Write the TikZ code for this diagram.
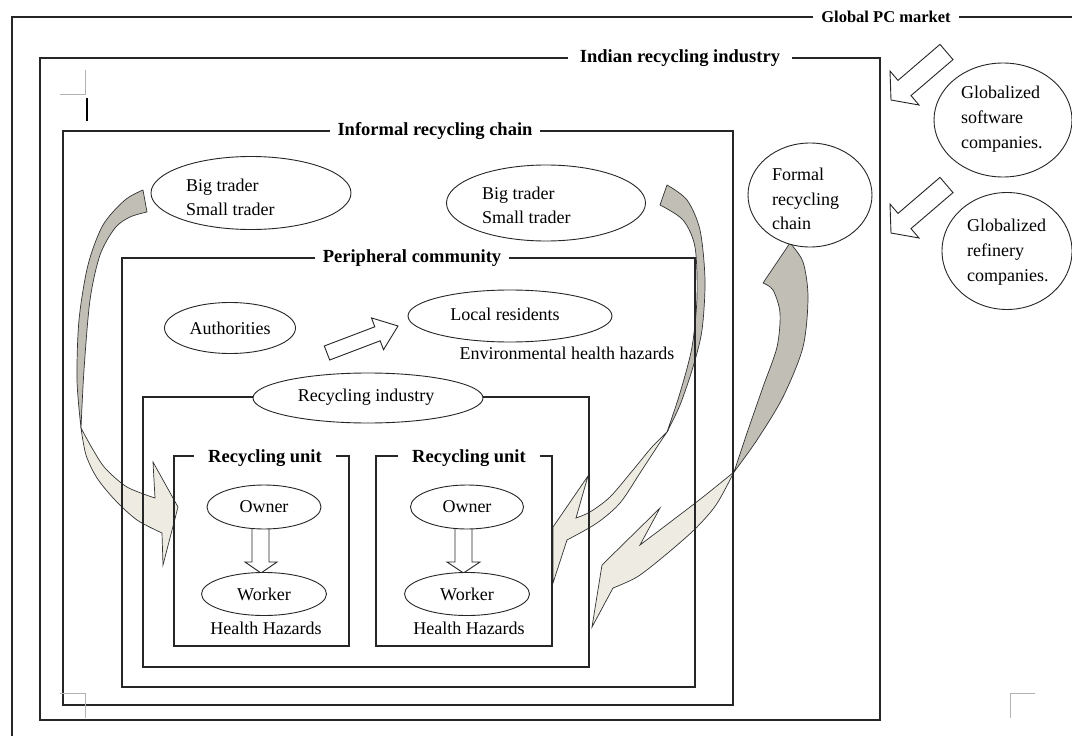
\documentclass[tikz,border=0pt]{standalone}
\usepackage{fontspec}
\setmainfont{Liberation Serif}
\usetikzlibrary{shapes.geometric}
\definecolor{backc}{RGB}{192,190,181}
\definecolor{frontc}{RGB}{238,236,226}
\begin{document}
\begin{tikzpicture}[x=1pt,y=-1pt,
  box/.style={draw=black!85,line width=1.1pt},
  ttl/.style={fill=white,inner xsep=8pt,inner ysep=1pt,font=\fontsize{18.5}{20}\selectfont\bfseries},
  ell/.style={ellipse,draw=black!85,line width=0.9pt,fill=white,inner sep=0pt,font=\fontsize{18}{24}\selectfont},
  txt/.style={font=\fontsize{18}{24}\selectfont,inner sep=0pt,align=left},
  back/.style={fill=backc,draw=black!80,line width=0.7pt,line join=round},
  front/.style={fill=frontc,draw=black!80,line width=0.7pt,line join=miter},
  hollow/.style={fill=white,draw=black!85,line width=0.9pt,line join=miter},
  crop/.style={draw=black!30,line width=0.8pt}]
\clip (0,0) rectangle (1072,736);
\fill[white] (0,0) rectangle (1072,736);

% ---- curved arrows (drawn first, box lines over them)
% left: big trader 1 -> recycling unit 1
\filldraw[back] plot[smooth] coordinates{(143,190) (125,200) (103,225) (88,265) (79,320) (77,380) (81,428)}
  -- plot[smooth] coordinates{(81,428) (84,370) (90,300) (100,255) (115,228) (130,217) (147,212)} -- cycle;
\filldraw[front] plot[smooth] coordinates{(81,428) (86,455) (97,478) (115,500) (137,520) (162,533)}
  -- (163,565) -- (178,507) -- (153,462)
  -- plot[smooth] coordinates{(155,498) (127,487) (105,468) (92,448) (81,428)} -- cycle;
% right: big trader 2 -> recycling unit 2
\filldraw[back] plot[smooth] coordinates{(667,185) (687,200) (700,230) (705,280) (702,330) (693,367) (680,405) (667,432)}
  -- plot[smooth] coordinates{(667,432) (680,393) (692,347) (697,297) (695,247) (683,220) (660,205)} -- cycle;
\filldraw[front] plot[smooth] coordinates{(667,432) (655,450) (640,473) (620,503) (597,523) (567,540)}
  -- (553,583) -- (553,527) -- (588,476)
  -- plot[smooth] coordinates{(576,518) (590,512) (610,497) (633,470) (652,447) (667,432)} -- cycle;
% formal chain -> recycling unit 2
\filldraw[back] plot[smooth] coordinates{(790,243) (803,262) (808,297) (803,347) (783,397) (757,440) (734,472)}
  -- plot[smooth] coordinates{(734,472) (747,433) (763,387) (777,347) (780,313) (773,290) (763,283)} -- cycle;
\filldraw[front] plot[smooth] coordinates{(734,472) (703,497) (673,520) (640,545)}
  -- (660,508) -- (602,565) -- (592,627)
  -- plot[smooth] coordinates{(613,588) (637,577) (663,557) (694,530) (716,505) (734,472)} -- cycle;

% ---- boxes
\draw[box] (12,760) -- (12,17) -- (1100,17);
\draw[box] (40,58) rectangle (880,720);
\draw[box] (63,131) rectangle (733,705);
\draw[box] (122,258) rectangle (695,687);
\draw[box] (143,397) rectangle (589,667);
\draw[box] (174,456) rectangle (349,646);
\draw[box] (376,456) rectangle (552,646);

\node[ttl,font=\fontsize{16.5}{18}\selectfont\bfseries] (tglobal) at (886,17) {Global PC market};
\node[ttl,inner xsep=12pt] (tindian) at (680,58) {Indian recycling industry};
\node[ttl] (tinformal) at (435,131) {Informal recycling chain};
\node[ttl] (tperi) at (412,258) {Peripheral community};
\node[ttl,inner xsep=14pt] (tunit1) at (265,458) {Recycling unit};
\node[ttl,inner xsep=14pt] (tunit2) at (469,458) {Recycling unit};

% ---- page marks
\draw[crop] (60,94) -- (85,94) -- (85,70);
\draw[crop] (60,693) -- (85,693) -- (85,718);
\draw[crop] (1035,693) -- (1010,693) -- (1010,718);
\draw[line width=2.2pt] (87,98) -- (87,121);

% ---- straight block arrows
\filldraw[hollow] (940,44.4) -- (898,80.4) -- (890,71) -- (891,100) -- (919,105) -- (911,95.6) -- (953,59.6) -- cycle;
\filldraw[hollow] (940,177.4) -- (898,213.4) -- (890,204) -- (891,233) -- (919,238) -- (911,228.6) -- (953,192.6) -- cycle;
\filldraw[hollow] (324.3,346) -- (374.8,326.8) -- (371.5,317.9) -- (398,326) -- (383.5,349.7) -- (380.2,340.8) -- (329.7,360) -- cycle;
\filldraw[hollow] (252,522) -- (252,562) -- (245,562) -- (261,573) -- (277,562) -- (269,562) -- (269,522) -- cycle;
\filldraw[hollow] (455,522) -- (455,562) -- (447,562) -- (463.5,573) -- (480,562) -- (472,562) -- (472,522) -- cycle;

% ---- ellipses and texts
\node[ell,minimum width=200pt,minimum height=73pt] (bt1) at (251,193) {};
\node[txt,anchor=west] (bt1t) at (186,197) {Big trader\\Small trader};
\node[ell,minimum width=199pt,minimum height=76pt] (bt2) at (546,203) {};
\node[txt,anchor=west] (bt2t) at (482,205) {Big trader\\Small trader};
\node[ell,minimum width=131pt,minimum height=51pt] (auth) at (230,328) {Authorities};
\node[ell,minimum width=204pt,minimum height=52pt] (loc) at (510,316) {};
\node[txt] (loct) at (505,314) {Local residents};
\node[txt] (env) at (567,353) {Environmental health hazards};
\node[ell,minimum width=230pt,minimum height=50pt] (ri) at (368,398) {};
\node[txt] (rit) at (366,397) {Recycling industry};

\node[ell,minimum width=114pt,minimum height=44pt] (own1) at (264,507) {Owner};
\node[ell,minimum width=125pt,minimum height=43pt] (wrk1) at (264,594) {Worker};
\node[txt] (hh1) at (266,628) {Health Hazards};
\node[ell,minimum width=113pt,minimum height=44pt] (own2) at (467,507) {Owner};
\node[ell,minimum width=125pt,minimum height=43pt] (wrk2) at (467,594) {Worker};
\node[txt] (hh2) at (469,628) {Health Hazards};

\node[ell,minimum width=124pt,minimum height=104pt] (formal) at (810,195) {};
\node[txt,anchor=west,font=\fontsize{18}{24.5}\selectfont] (formalt) at (772,199) {Formal\\recycling\\chain};
\node[ell,minimum width=138pt,minimum height=114pt] (soft) at (1003,120) {};
\node[txt,anchor=west,font=\fontsize{18}{25}\selectfont] (softt) at (961,119) {Globalized\\software\\companies.};
\node[ell,minimum width=130pt,minimum height=117pt] (ref) at (1007,251) {};
\node[txt,anchor=west,font=\fontsize{18}{25}\selectfont] (reft) at (967,252) {Globalized\\refinery\\companies.};
\end{tikzpicture}
\end{document}
